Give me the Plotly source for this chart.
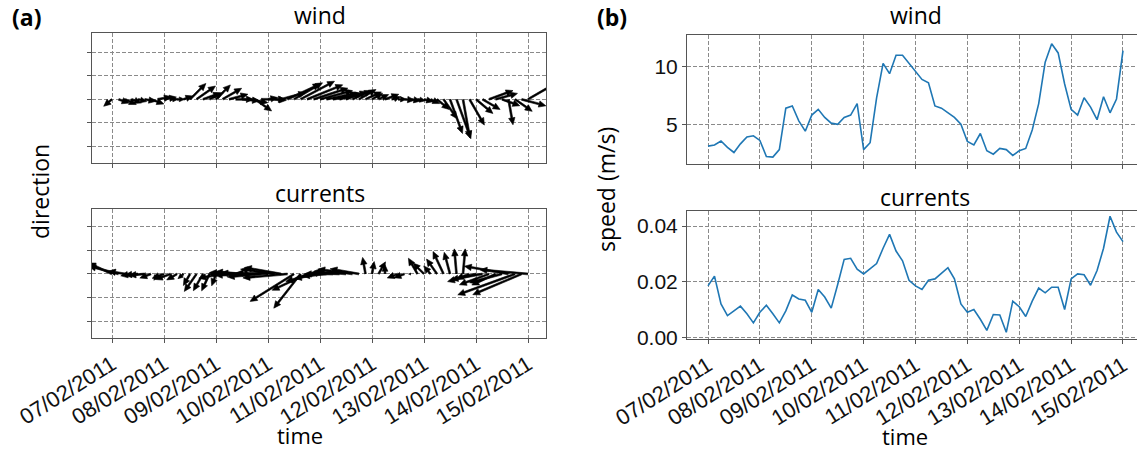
import numpy as np
import plotly.graph_objects as go

W, H = 1137, 452

# ---------------- data ----------------
tick_days = [7, 8, 9, 10, 11, 12, 13, 14, 15]
tick_labels = ["07/02/2011", "08/02/2011", "09/02/2011", "10/02/2011", "11/02/2011",
               "12/02/2011", "13/02/2011", "14/02/2011", "15/02/2011"]
hours = list(range(0, 193, 3))  # hours after 07/02/2011 00:00 (3-hourly samples)

wind_speed = [3.1, 3.2, 3.55, 3.0, 2.55, 3.3, 3.9, 4.0, 3.6, 2.2, 2.15, 2.8, 6.4,
              6.6, 5.3, 4.4, 5.8, 6.3, 5.6, 5.1, 5.0, 5.6, 5.8, 6.8, 2.8, 3.4, 7.3,
              10.3, 9.4, 11.0, 11.0, 10.3, 9.6, 8.9, 8.6, 6.6, 6.4, 6.0, 5.6, 5.0,
              3.5, 3.2, 4.2, 2.7, 2.4, 2.9, 2.8, 2.3, 2.7, 2.9, 4.5, 6.8, 10.4, 12.0,
              11.2, 8.5, 6.3, 5.8, 7.3, 6.5, 5.4, 7.4, 6.0, 7.2, 11.4]
# arrow direction on the page, degrees counter-clockwise from "pointing right"
wind_dir = [220, -20, -25, -20, -15, -10, -20, 10, 10, 0, 0, 20, 45,
            35, 20, 25, 45, 30, 15, 0, -5, -10, -35, 0, 10, -5, 15,
            25, 30, 28, 22, 18, 15, 12, 10, 15, 20, 25, 30, 25,
            30, 25, 20, 15, 0, -5, -10, -10, -15, -25, -40, -55, -70, -70,
            -80, -60, -40, -30, 20, 15, -20, -80, -35, -15, 30]

curr_speed = [0.0185, 0.022, 0.012, 0.0078, 0.0095, 0.0112, 0.0085, 0.0052, 0.009,
              0.0115, 0.0085, 0.0052, 0.0095, 0.0152, 0.0138, 0.0133, 0.009, 0.0172,
              0.0145, 0.0105, 0.019, 0.028, 0.0284, 0.0245, 0.0228, 0.0245, 0.0265,
              0.032, 0.037, 0.031, 0.0275, 0.0205, 0.0185, 0.0172, 0.0205, 0.021,
              0.023, 0.025, 0.021, 0.012, 0.009, 0.010, 0.0065, 0.0025, 0.0082, 0.008,
              0.0018, 0.013, 0.011, 0.0075, 0.013, 0.0177, 0.016, 0.018, 0.018, 0.010,
              0.021, 0.0228, 0.0225, 0.0187, 0.024, 0.032, 0.0435, 0.0378, 0.0344]
curr_dir = [155, 165, 170, 190, 185, 185, 200, 240, 200,
            200, 210, 220, 240, 235, 240, 245, 250, 190,
            180, 175, 175, 178, 182, 185, 178, 172, 170,
            185, 212, 232, 205, 195, 190, 185, 180, 178,
            175, 172, 170, 100, 80, 60, 90, 270, 200, 200,
            180, 120, 135, 130, 125, 115, 105, 95, 85, 200,
            195, 190, 200, 205, 195, 170, 200, 203, 175]

# ---------------- layout geometry (pixels) ----------------
L_left, L_right = 92, 546
R_left, R_right = 687, 1137
TL_top, TL_bot = 33, 163
BL_top, BL_bot = 209, 338
TR_top, TR_bot = 35, 164
BR_top, BR_bot = 210.7, 339

xr_left = [6.615, 15.346]
xr_right = [6.595, 15.27]
yr_tl = [-2.71, 2.82]
yr_bl = [-2.71, 2.75]


def xdom(a, b):
    return [a / W, b / W]


def ydom(top, bot):
    return [1 - bot / H, 1 - top / H]


t_days = [7 + h / 24 for h in hours]


def arrow_paths(t, speed, ang, px_per_speed, xpx, ypx):
    xs, ys = [], []
    w, hl0, hw0 = 0.9, 7.0, 3.2
    for ti, s, a in zip(t, speed, ang):
        L = s * px_per_speed
        hl = min(hl0, 0.7 * L)
        hw = hw0 * hl / hl0
        c, sn = np.cos(np.radians(a)), np.sin(np.radians(a))
        pts = [(0, w), (L - hl, w), (L - hl, hw), (L, 0), (L - hl, -hw), (L - hl, -w), (0, -w)]
        for p, q in pts:
            px = p * c - q * sn
            py = p * sn + q * c
            xs.append(ti + px / xpx)
            ys.append(py / ypx)
        xs.append(None)
        ys.append(None)
    return xs, ys


xpx_left = (L_right - L_left) / (xr_left[1] - xr_left[0])
ypx_tl = (TL_bot - TL_top) / (yr_tl[1] - yr_tl[0])
ypx_bl = (BL_bot - BL_top) / (yr_bl[1] - yr_bl[0])

wx, wy = arrow_paths(t_days, wind_speed, wind_dir, 3.5, xpx_left, ypx_tl)
cx, cy = arrow_paths(t_days, curr_speed, curr_dir, 1400, xpx_left, ypx_bl)

fig = go.Figure()
fig.add_trace(go.Scatter(x=wx, y=wy, mode="lines", fill="toself", fillcolor="black",
                         line=dict(color="black", width=0.6), xaxis="x", yaxis="y",
                         hoverinfo="skip", showlegend=False))
fig.add_trace(go.Scatter(x=cx, y=cy, mode="lines", fill="toself", fillcolor="black",
                         line=dict(color="black", width=0.6), xaxis="x2", yaxis="y2",
                         hoverinfo="skip", showlegend=False))
fig.add_trace(go.Scatter(x=t_days, y=wind_speed, mode="lines",
                         line=dict(color="#1f77b4", width=1.6), xaxis="x3", yaxis="y3",
                         showlegend=False))
fig.add_trace(go.Scatter(x=t_days, y=curr_speed, mode="lines",
                         line=dict(color="#1f77b4", width=1.6), xaxis="x4", yaxis="y4",
                         showlegend=False))

grid = dict(showgrid=True, gridcolor="#8a8a8a", griddash="4px,2px", gridwidth=1,
            zeroline=False, showline=True, linecolor="#555555", linewidth=1,
            ticks="outside", ticklen=4, tickcolor="#555555", automargin=False,
            tickfont=dict(family="Liberation Sans", size=21, color="#111111"))
date_font = dict(family="Liberation Sans", size=22, color="#111111")

layout = dict(
    width=W, height=H, margin=dict(l=0, r=0, t=0, b=0, autoexpand=False),
    paper_bgcolor="white", plot_bgcolor="white",
    xaxis=dict(grid, domain=xdom(L_left, L_right), range=xr_left, tickvals=tick_days,
               showticklabels=False, mirror=True, anchor="y"),
    yaxis=dict(grid, domain=ydom(TL_top, TL_bot), range=yr_tl, tickvals=[-2, -1, 0, 1, 2],
               showticklabels=False, mirror=True, anchor="x"),
    xaxis2=dict(grid, domain=xdom(L_left, L_right), range=xr_left, tickvals=tick_days,
                ticktext=tick_labels, tickangle=-32, mirror=True, anchor="y2",
                tickfont=date_font),
    yaxis2=dict(grid, domain=ydom(BL_top, BL_bot), range=yr_bl, tickvals=[-2, -1, 0, 1, 2],
                showticklabels=False, mirror=True, anchor="x2"),
    xaxis3=dict(grid, domain=xdom(R_left, R_right), range=xr_right, tickvals=tick_days,
                showticklabels=False, mirror=True, anchor="y3"),
    yaxis3=dict(grid, domain=ydom(TR_top, TR_bot), range=[1.55, 12.76], tickvals=[5, 10],
                anchor="x3"),
    xaxis4=dict(grid, domain=xdom(R_left, R_right), range=xr_right, tickvals=tick_days,
                ticktext=tick_labels, tickangle=-32, mirror=True, anchor="y4",
                tickfont=date_font),
    yaxis4=dict(grid, domain=ydom(BR_top, BR_bot), range=[-0.0006, 0.0455],
                tickvals=[0.0, 0.02, 0.04], tickformat=".2f", anchor="x4"),
)
fig.update_layout(**layout)

title_font = dict(family="Open Sans", size=23, color="black")
time_font = dict(family="Open Sans", size=22, color="black")


def ann(text, xpix, ypix, font, angle=0):
    fig.add_annotation(text=text, x=xpix / W, y=1 - ypix / H, xref="paper", yref="paper",
                       showarrow=False, font=font, textangle=angle,
                       xanchor="center", yanchor="middle", borderpad=0)


ann("wind", 320, 15, title_font)
ann("currents", 320, 193, title_font)
ann("wind", 916, 15, title_font)
ann("currents", 925, 197, title_font)
ann("direction", 40, 192, title_font, -90)
ann("speed (m/s)", 606, 190, title_font, -90)
ann("time", 300, 435, time_font)
ann("time", 905, 436, time_font)
bold = dict(family="Open Sans", size=23, color="black", weight="bold")
ann("(a)", 26, 17, bold)
ann("(b)", 612, 17, bold)

fig.write_html("out.html")
